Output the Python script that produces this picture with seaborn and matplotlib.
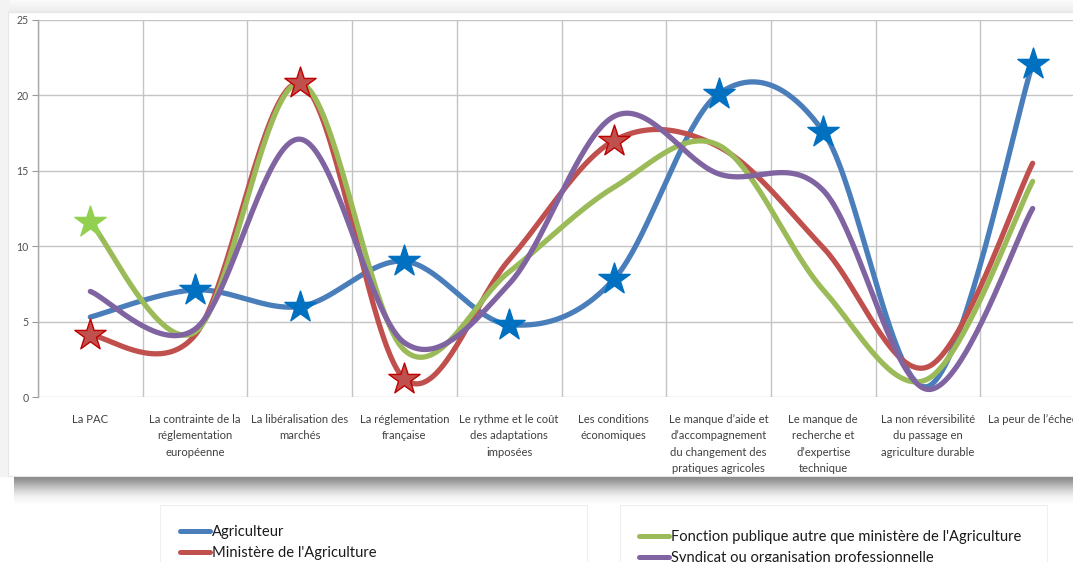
import numpy as np
import pandas as pd
import matplotlib
matplotlib.use("Agg")
import matplotlib.pyplot as plt
import seaborn as sns
from matplotlib.patches import Rectangle

# ---- data -------------------------------------------------------------
categories = [
    "La PAC",
    "La contrainte de la\nréglementation\neuropéenne",
    "La libéralisation des\nmarchés",
    "La réglementation\nfrançaise",
    "Le rythme et le coût\ndes adaptations\nimposées",
    "Les conditions\néconomiques",
    "Le manque d’aide et\nd’accompagnement\ndu changement des\npratiques agricoles",
    "Le manque de\nrecherche et\nd’expertise\ntechnique",
    "La non réversibilité\ndu passage en\nagriculture durable",
    "La peur de l’échec",
]
series_names = [
    "Agriculteur",
    "Ministère de l'Agriculture",
    "Fonction publique autre que ministère de l'Agriculture",
    "Syndicat ou organisation professionnelle",
]
agriculteur = [5.3, 7.1, 6.0, 9.0, 4.8, 7.8, 20.1, 17.6, 0.7, 22.1]
ministere = [4.1, 4.1, 20.8, 1.2, 9.1, 17.0, 16.6, 9.9, 2.0, 15.5]
fonction_publique = [11.6, 4.3, 20.8, 3.1, 8.3, 13.9, 16.7, 7.1, 1.2, 14.3]
syndicat = [7.0, 4.5, 17.1, 3.6, 7.5, 18.6, 14.8, 13.7, 0.5, 12.5]

# categories highlighted with a star, per series
stars_agriculteur = [1, 2, 3, 4, 5, 6, 7, 9]
stars_ministere = [0, 2, 3, 5]
stars_fonction = [0]
stars_syndicat = []

line_colors = ["#4A7EBB", "#C0504D", "#9BBB59", "#8064A2"]
star_fill = ["#0070C0", "#C0504D", "#92D050", None]
star_edge = ["#0070C0", "#C00000", "#92D050", None]


def smooth(values, n=40):
    """Bezier smoothing through the points (Catmull-Rom style)."""
    x = np.arange(len(values), dtype=float)
    P = np.column_stack([x, np.asarray(values, dtype=float)])
    out = []
    for i in range(len(P) - 1):
        p0 = P[i - 1] if i > 0 else P[i]
        p1, p2 = P[i], P[i + 1]
        p3 = P[i + 2] if i + 2 < len(P) else P[i + 1]
        c1 = p1 + (p2 - p0) / 6.0
        c2 = p2 - (p3 - p1) / 6.0
        t = np.linspace(0, 1, n, endpoint=(i == len(P) - 2))[:, None]
        seg = ((1 - t) ** 3) * p1 + 3 * ((1 - t) ** 2) * t * c1 \
            + 3 * (1 - t) * t ** 2 * c2 + t ** 3 * p2
        out.append(seg)
    return np.vstack(out)


all_values = [agriculteur, ministere, fonction_publique, syndicat]
all_stars = [stars_agriculteur, stars_ministere, stars_fonction, stars_syndicat]

curve_frames = []
for name, vals in zip(series_names, all_values):
    pts = smooth(vals)
    curve_frames.append(pd.DataFrame({"x": pts[:, 0], "y": pts[:, 1], "serie": name}))
curves = pd.concat(curve_frames, ignore_index=True)

# ---- figure -----------------------------------------------------------
sns.set_theme(style="white")
plt.rcParams["font.family"] = ["Lato", "DejaVu Sans"]

W, H = 1073, 562
fig = plt.figure(figsize=(W / 100, H / 100), dpi=100, facecolor="white")

# backdrop: panel, drop shadow and legend boxes (pixel coordinates)
bg = fig.add_axes([0, 0, 1, 1], zorder=-10)
bg.set_xlim(0, W)
bg.set_ylim(H, 0)
bg.axis("off")
grad = np.linspace(0, 1, 64)[:, None]
cm = matplotlib.colors.LinearSegmentedColormap.from_list
bg.imshow(grad, extent=[0, W, 12, 0], cmap=cm("t", ["#fbfbfb", "#ececec"]),
          aspect="auto", zorder=0)
bg.imshow(grad, extent=[14, W, 504, 476],
          cmap=cm("s", ["#828282", "#a8a8a8", "#d4d4d4", "#f3f3f3", "#fdfdfd"]),
          aspect="auto", zorder=0)
bg.add_patch(Rectangle((0, 0), 8, 476, color="#f3f3f3", zorder=1))
bg.add_patch(Rectangle((8, 12), W, 464, facecolor="white", edgecolor="#e6e6e6", lw=0.8, zorder=2))
bg.add_patch(Rectangle((160, 505), 427, 70, facecolor="white", edgecolor="#efefef", lw=0.8, zorder=2))
bg.add_patch(Rectangle((620, 505), 427, 70, facecolor="white", edgecolor="#efefef", lw=0.8, zorder=2))

# plot area
x0, x1, yb, yt = 38, 1085, 397, 20
ax = fig.add_axes([x0 / W, (H - yb) / H, (x1 - x0) / W, (yb - yt) / H])
ax.set_facecolor("none")

palette = dict(zip(series_names, line_colors))
sns.lineplot(data=curves, x="x", y="y", hue="serie", units="serie", estimator=None,
             sort=False, palette=palette, hue_order=series_names, lw=3.8,
             solid_capstyle="round", legend=False, ax=ax, zorder=3)

for vals, idx, fc, ec in zip(all_values, all_stars, star_fill, star_edge):
    if not idx:
        continue
    pts = pd.DataFrame({"x": idx, "y": [vals[i] for i in idx]})
    sns.scatterplot(data=pts, x="x", y="y", marker="*", s=560, color=fc,
                    edgecolor=ec, linewidth=1.0, ax=ax, zorder=5, legend=False)

ax.set_xlim(-0.5, len(categories) - 0.5)
ax.set_ylim(0, 25)
ax.set_yticks(range(0, 26, 5))
ax.set_xticks(range(len(categories)))
ax.set_xticklabels(categories, fontsize=8.1, color="#404040", linespacing=1.62, va="top")
ax.set_xticks(np.arange(-0.5, len(categories), 1.0), minor=True)
ax.tick_params(axis="x", which="major", length=0, pad=12)
ax.tick_params(axis="x", which="minor", length=4, color="#9a9a9a", width=0.8)
ax.tick_params(axis="y", length=4, color="#9a9a9a", width=0.8, labelsize=7.6,
               labelcolor="#505050", pad=3, left=True)
ax.grid(True, axis="y", color="#c4c4c4", lw=1.0)
ax.grid(True, axis="x", which="minor", color="#c4c4c4", lw=1.0)
ax.grid(False, axis="x", which="major")
ax.set_axisbelow(True)
for side in ["top", "right", "bottom"]:
    ax.spines[side].set_visible(False)
ax.spines["left"].set_color("#a8a8a8")
ax.spines["left"].set_linewidth(1.0)
ax.set_xlabel("")
ax.set_ylabel("")

# legends, two columns of entries below the chart
handles = [matplotlib.lines.Line2D([], [], color=c, lw=3.6, solid_capstyle="round")
           for c in line_colors]
leg_kw = dict(frameon=False, fontsize=10.6, handlelength=2.05, handletextpad=0.12,
              labelspacing=0.5, borderpad=0, borderaxespad=0, loc="upper left")
leg1 = fig.legend(handles[:2], series_names[:2], bbox_to_anchor=(180 / W, 1 - 525 / H), **leg_kw)
leg2 = fig.legend(handles[2:], series_names[2:], bbox_to_anchor=(639 / W, 1 - 530 / H), **leg_kw)
for leg in (leg1, leg2):
    for t in leg.get_texts():
        t.set_color("#1a1a1a")

fig.savefig("out.png", dpi=100, facecolor=fig.get_facecolor())
